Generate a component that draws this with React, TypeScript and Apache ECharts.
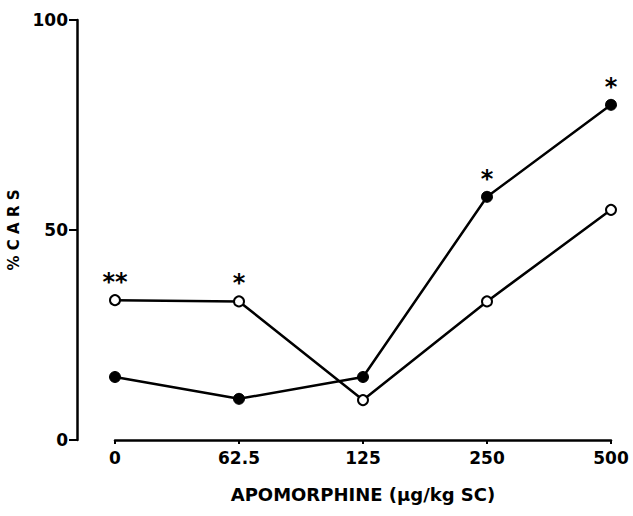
import React, { useEffect, useRef } from "react";
import * as echarts from "echarts";

const doses = ["0", "62.5", "125", "250", "500"];
const openValues = [33.3, 33, 9.5, 33, 54.8];
const filledValues = [15, 9.8, 15, 57.9, 79.8];
const openStars = ["**", "*", "", "", ""];
const filledStars = ["", "", "", "*", "*"];
const yTicks = [0, 50, 100];

const FONT = "'DejaVu Sans', sans-serif";

function withStars(values: number[], stars: string[]) {
  return values.map((v, i) => ({
    value: v,
    label: stars[i]
      ? {
          show: true,
          formatter: stars[i],
          position: "top",
          distance: 0,
          fontSize: 24,
          fontWeight: "bold",
          color: "#000",
          fontFamily: FONT,
        }
      : { show: false },
  }));
}

export default function App() {
  const ref = useRef<HTMLDivElement>(null);
  useEffect(() => {
    if (!ref.current) return;
    document.body.style.margin = "0";
    const chart = echarts.init(ref.current, undefined, { renderer: "svg" });
    chart.setOption({
      animation: false,
      backgroundColor: "#fff",
      grid: { left: 115, right: 22, top: 20, bottom: 76, containLabel: false, outerBoundsMode: "none" },
      xAxis: {
        type: "category",
        data: doses,
        boundaryGap: false,
        name: "APOMORPHINE (\u03bcg/kg SC)",
        nameLocation: "middle",
        nameGap: 45,
        nameTextStyle: { fontSize: 18, fontWeight: "bold", color: "#000", fontFamily: FONT },
        axisLine: { lineStyle: { color: "#000", width: 2.5 } },
        axisTick: { show: true, length: 4, lineStyle: { color: "#000", width: 2 } },
        axisLabel: { fontSize: 17, fontWeight: "bold", color: "#000", fontFamily: FONT, margin: 9 },
        splitLine: { show: false },
      },
      yAxis: {
        type: "value",
        min: 0,
        max: 100,
        interval: 50,
        offset: 38,
        name: "% C A R S",
        nameLocation: "middle",
        nameGap: 50,
        nameRotate: 90,
        nameTextStyle: { fontSize: 15, fontWeight: "bold", color: "#000", fontFamily: FONT },
        axisLine: { show: true, lineStyle: { color: "#000", width: 2.5 } },
        axisTick: { show: true, length: 8, lineStyle: { color: "#000", width: 2 } },
        axisLabel: {
          fontSize: 17,
          fontWeight: "bold",
          color: "#000",
          fontFamily: FONT,
          margin: 9,
          formatter: (v: number) => (yTicks.includes(v) ? String(v) : ""),
        },
        splitLine: { show: false },
      },
      series: [
        {
          type: "line",
          data: withStars(openValues, openStars),
          symbol: "circle",
          symbolSize: 10,
          lineStyle: { color: "#000", width: 2.5 },
          itemStyle: { color: "#fff", borderColor: "#000", borderWidth: 2 },
          z: 3,
        },
        {
          type: "line",
          data: withStars(filledValues, filledStars),
          symbol: "circle",
          symbolSize: 11,
          lineStyle: { color: "#000", width: 2.5 },
          itemStyle: { color: "#000", borderColor: "#000", borderWidth: 1 },
          z: 4,
        },
      ],
    });
    return () => chart.dispose();
  }, []);
  return <div ref={ref} style={{ width: 633, height: 516 }} />;
}
